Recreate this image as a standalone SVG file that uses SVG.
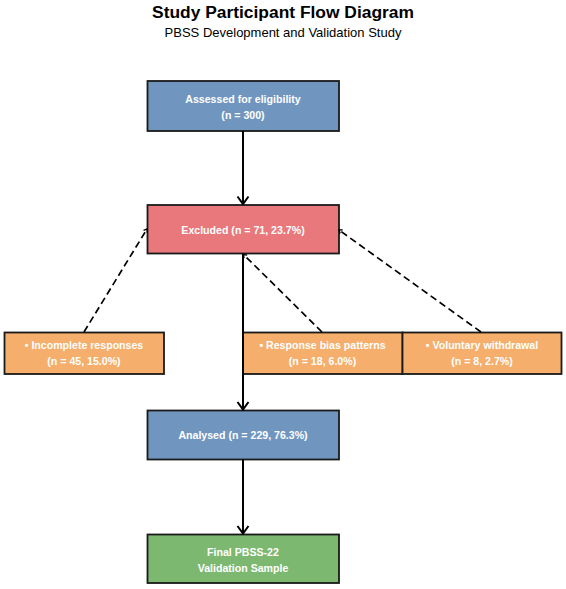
<svg xmlns="http://www.w3.org/2000/svg" width="566" height="589" viewBox="0 0 566 589">
  <style>
    .box { stroke: #1a1a1a; stroke-width: 1.8; }
    .blue { fill: #7096BF; }
    .red { fill: #E8787B; }
    .orange { fill: #F5AE6C; }
    .green { fill: #7CB870; }
    .lbl { font-family: "Liberation Sans", Arial, sans-serif; font-weight: bold; font-size: 10.6px; fill: #ffffff; text-anchor: middle; }
    .title { font-family: "Liberation Sans", Arial, sans-serif; font-weight: bold; font-size: 17.4px; fill: #000000; text-anchor: middle; }
    .sub { font-family: "Liberation Sans", Arial, sans-serif; font-size: 13px; fill: #000000; text-anchor: middle; }
    .solid { stroke: #000000; stroke-width: 2; fill: none; }
    .dash { stroke: #000000; stroke-width: 1.7; fill: none; stroke-dasharray: 7 4; }
  </style>
  <defs>
    <marker id="head" markerUnits="userSpaceOnUse" markerWidth="16" markerHeight="16" viewBox="-10 -8 12 16" refX="0" refY="0" orient="auto">
      <path d="M -7.5,-5.5 L 0,0 L -7.5,5.5" fill="none" stroke="#000000" stroke-width="2"/>
    </marker>
    <marker id="headSmall" markerUnits="userSpaceOnUse" markerWidth="10" markerHeight="10" viewBox="-5 -5 7 10" refX="0" refY="0" orient="auto">
      <path d="M -3,-2.2 L 0,0 L -3,2.2" fill="none" stroke="#000000" stroke-width="1.3"/>
    </marker>
  </defs>

  <text class="title" x="283" y="18">Study Participant Flow Diagram</text>
  <text class="sub" x="283" y="37">PBSS Development and Validation Study</text>

  <g id="node-assessed">
    <rect class="box blue" x="147.5" y="81" width="191.5" height="50"/>
    <text class="lbl" x="243" y="102.5">Assessed for eligibility</text>
    <text class="lbl" x="243" y="118.5">(n = 300)</text>
  </g>
  <g id="node-excluded">
    <rect class="box red" x="147.5" y="205" width="191.5" height="48.5"/>
    <text class="lbl" x="243" y="233.5">Excluded (n = 71, 23.7%)</text>
  </g>
  <g id="node-incomplete">
    <rect class="box orange" x="4.5" y="332.5" width="159.5" height="41.5"/>
    <text class="lbl" x="84" y="349.3">• Incomplete responses</text>
    <text class="lbl" x="84" y="365">(n = 45, 15.0%)</text>
  </g>
  <g id="node-bias">
    <rect class="box orange" x="243" y="332.5" width="159.5" height="41.5"/>
    <text class="lbl" x="322.5" y="349.3">• Response bias patterns</text>
    <text class="lbl" x="322.5" y="365">(n = 18, 6.0%)</text>
  </g>
  <g id="node-withdrawal">
    <rect class="box orange" x="402.5" y="332.5" width="159" height="41.5"/>
    <text class="lbl" x="482" y="349.3">• Voluntary withdrawal</text>
    <text class="lbl" x="482" y="365">(n = 8, 2.7%)</text>
  </g>
  <g id="node-analysed">
    <rect class="box blue" x="147.5" y="410.5" width="191.5" height="49"/>
    <text class="lbl" x="243" y="438.8">Analysed (n = 229, 76.3%)</text>
  </g>
  <g id="node-final">
    <rect class="box green" x="147.5" y="534.5" width="191.5" height="48.5"/>
    <text class="lbl" x="243" y="556">Final PBSS-22</text>
    <text class="lbl" x="243" y="571.5">Validation Sample</text>
  </g>

  <g id="connectors">
    <line class="solid" x1="243" y1="131" x2="243" y2="204" marker-end="url(#head)"/>
    <line class="solid" x1="243" y1="253.5" x2="243" y2="409.5" marker-end="url(#head)"/>
    <line class="solid" x1="243" y1="459.5" x2="243" y2="533.5" marker-end="url(#head)"/>
    <line class="dash" x1="84" y1="332" x2="147" y2="229" marker-end="url(#headSmall)"/>
    <line class="dash" x1="322" y1="332" x2="243.5" y2="254.5" marker-end="url(#headSmall)"/>
    <line class="dash" x1="481" y1="332" x2="339" y2="230" marker-end="url(#headSmall)"/>
  </g>
</svg>
